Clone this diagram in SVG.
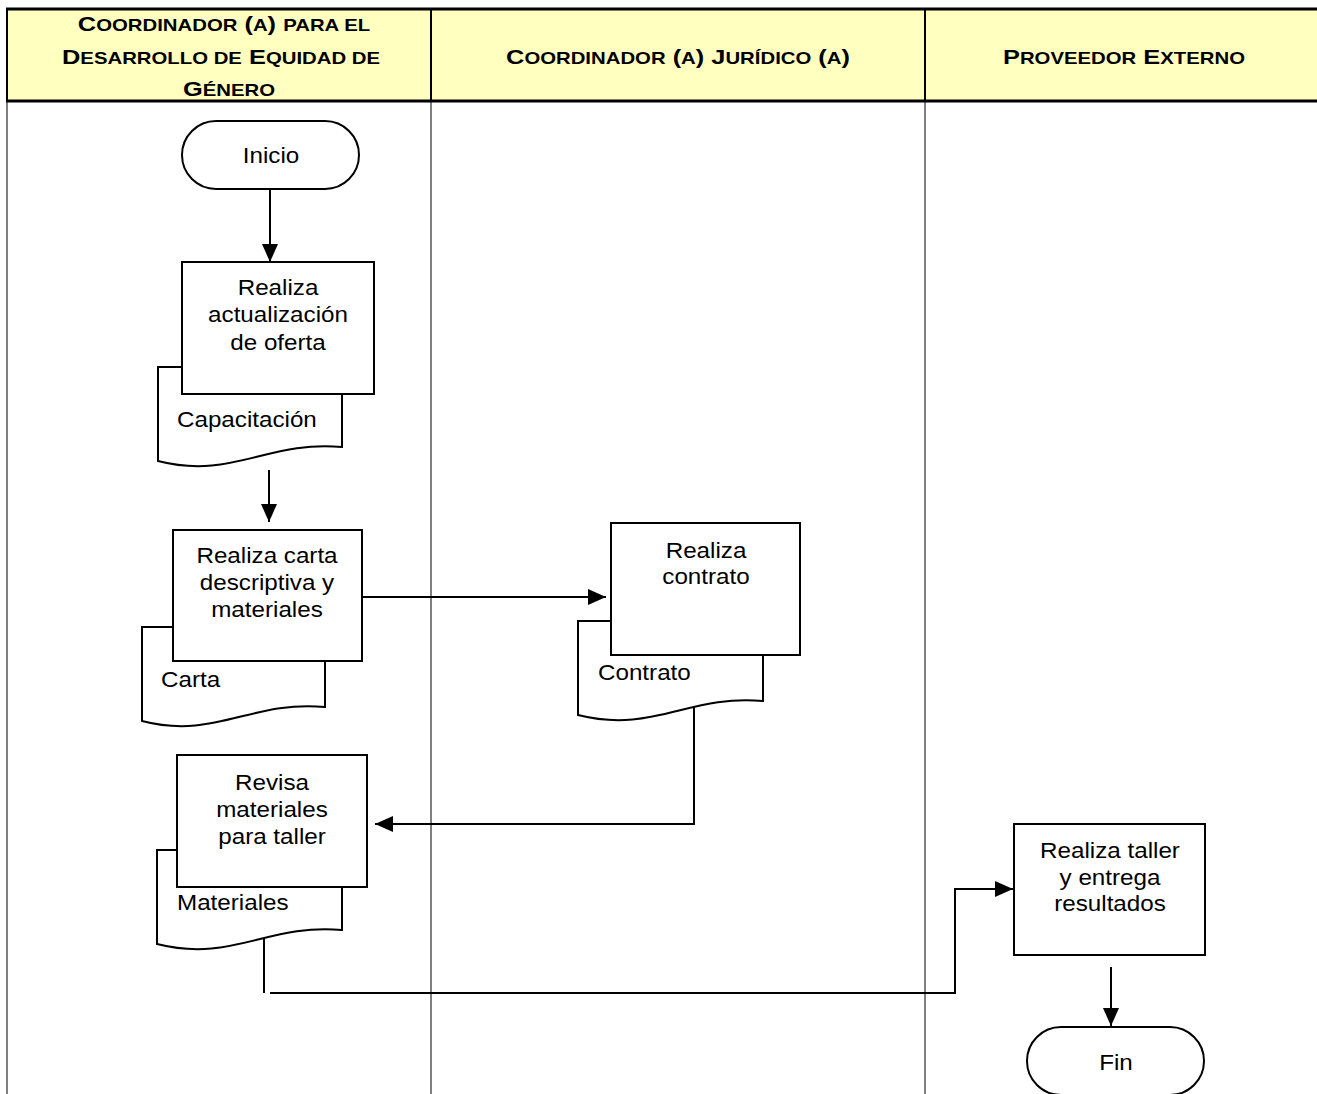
<svg xmlns="http://www.w3.org/2000/svg" width="1317" height="1094" viewBox="0 0 1317 1094">
  <style>
    .lane { stroke: #808080; stroke-width: 2; fill: none; }
    .hdline { stroke: #000; stroke-width: 2; fill: none; }
    .hd { font-family: "Liberation Sans", Arial, sans-serif; font-weight: bold; font-size: 20.5px; fill: #000; text-anchor: middle; }
    .sc { font-size: 16.4px; }
    .shape { fill: #fff; stroke: #000; stroke-width: 2; }
    .t { font-family: "Liberation Sans", Arial, sans-serif; font-size: 22px; fill: #000; text-anchor: middle; }
    .tl { font-family: "Liberation Sans", Arial, sans-serif; font-size: 22px; fill: #000; text-anchor: start; }
    .conn { stroke: #000; stroke-width: 2; fill: none; }
  </style>
  <defs>
    <marker id="arrow" markerUnits="userSpaceOnUse" markerWidth="18" markerHeight="18" viewBox="0 0 18 18" refX="18" refY="9" orient="auto">
      <path d="M0,1 L18,9 L0,17 Z" fill="#000"/>
    </marker>
  </defs>

  <rect width="1317" height="1094" fill="#fff"/>

  <!-- swimlane table -->
  <g id="lanes">
    <rect x="7" y="9" width="1312" height="92" fill="#FFFFC0"/>
    <line class="lane" x1="7" y1="101" x2="7" y2="1094"/>
    <line class="lane" x1="431" y1="101" x2="431" y2="1094"/>
    <line class="lane" x1="925" y1="101" x2="925" y2="1094"/>
    <line x1="6" y1="9" x2="1317" y2="9" stroke="#000" stroke-width="3"/>
    <line x1="6" y1="101" x2="1317" y2="101" stroke="#000" stroke-width="3"/>
    <line class="hdline" x1="7" y1="8" x2="7" y2="102"/>
    <line class="hdline" x1="431" y1="8" x2="431" y2="102"/>
    <line class="hdline" x1="925" y1="8" x2="925" y2="102"/>
    <text class="hd" transform="translate(224,0) scale(1.24,1)" y="31">C<tspan class="sc">OORDINADOR</tspan> (<tspan class="sc">A</tspan>) <tspan class="sc">PARA EL</tspan></text>
    <text class="hd" transform="translate(221,0) scale(1.24,1)" y="64">D<tspan class="sc">ESARROLLO DE</tspan> E<tspan class="sc">QUIDAD DE</tspan></text>
    <text class="hd" transform="translate(229,0) scale(1.24,1)" y="96">G<tspan class="sc">ÉNERO</tspan></text>
    <text class="hd" transform="translate(678,0) scale(1.24,1)" y="64">C<tspan class="sc">OORDINADOR</tspan> (<tspan class="sc">A</tspan>) J<tspan class="sc">URÍDICO</tspan> (<tspan class="sc">A</tspan>)</text>
    <text class="hd" transform="translate(1124,0) scale(1.24,1)" y="64">P<tspan class="sc">ROVEEDOR</tspan> E<tspan class="sc">XTERNO</tspan></text>
  </g>

  <!-- connectors -->
  <g id="connectors">
    <line class="conn" x1="270" y1="189" x2="270" y2="262" marker-end="url(#arrow)"/>
    <line class="conn" x1="269" y1="470" x2="269" y2="522" marker-end="url(#arrow)"/>
    <line class="conn" x1="362" y1="597" x2="606" y2="597" marker-end="url(#arrow)"/>
    <polyline class="conn" points="694,707 694,824 375,824" marker-end="url(#arrow)"/>
    <line class="conn" x1="264" y1="938" x2="264" y2="993"/>
    <polyline class="conn" points="270,993 955,993 955,889 1013,889" marker-end="url(#arrow)"/>
    <line class="conn" x1="1111" y1="967" x2="1111" y2="1026" marker-end="url(#arrow)"/>
  </g>

  <!-- start -->
  <g id="inicio">
    <rect class="shape" x="182" y="121" width="177" height="68" rx="34" ry="34"/>
    <text class="t" transform="translate(271,0) scale(1.1,1)" y="163">Inicio</text>
  </g>

  <!-- step 1 with its document -->
  <g id="oferta">
    <path class="shape" d="M158,367 H342 V447 C268,440 232,480 158,461 Z"/>
    <rect class="shape" x="182" y="262" width="192" height="132"/>
    <text class="t" transform="translate(278,0) scale(1.1,1)"><tspan x="0" y="295">Realiza</tspan><tspan x="0" y="322">actualización</tspan><tspan x="0" y="350">de oferta</tspan></text>
    <text class="tl" transform="translate(177,0) scale(1.1,1)" x="0" y="427">Capacitación</text>
  </g>

  <!-- step 2 with its document -->
  <g id="carta">
    <path class="shape" d="M142,627 H325 V707 C251,700 215,740 142,721 Z"/>
    <rect class="shape" x="173" y="530" width="189" height="131"/>
    <text class="t" transform="translate(267,0) scale(1.1,1)"><tspan x="0" y="563">Realiza carta</tspan><tspan x="0" y="590">descriptiva y</tspan><tspan x="0" y="617">materiales</tspan></text>
    <text class="tl" transform="translate(161,0) scale(1.1,1)" x="0" y="687">Carta</text>
  </g>

  <!-- step 3 with its document -->
  <g id="contrato">
    <path class="shape" d="M578,621 H763 V701 C689,694 653,734 578,715 Z"/>
    <rect class="shape" x="611" y="523" width="189" height="132"/>
    <text class="t" transform="translate(706,0) scale(1.1,1)"><tspan x="0" y="558">Realiza</tspan><tspan x="0" y="584">contrato</tspan></text>
    <text class="tl" transform="translate(598,0) scale(1.1,1)" x="0" y="680">Contrato</text>
  </g>

  <!-- step 4 with its document -->
  <g id="revisa">
    <path class="shape" d="M157,850 H342 V930 C268,923 232,963 157,944 Z"/>
    <rect class="shape" x="177" y="755" width="190" height="132"/>
    <text class="t" transform="translate(272,0) scale(1.1,1)"><tspan x="0" y="790">Revisa</tspan><tspan x="0" y="817">materiales</tspan><tspan x="0" y="844">para taller</tspan></text>
    <text class="tl" transform="translate(177,0) scale(1.1,1)" x="0" y="910">Materiales</text>
  </g>

  <!-- step 5 -->
  <g id="taller">
    <rect class="shape" x="1014" y="824" width="191" height="131"/>
    <text class="t" transform="translate(1110,0) scale(1.1,1)"><tspan x="0" y="858">Realiza taller</tspan><tspan x="0" y="885">y entrega</tspan><tspan x="0" y="911">resultados</tspan></text>
  </g>

  <!-- end -->
  <g id="fin">
    <rect class="shape" x="1027" y="1027" width="177" height="68" rx="34" ry="34"/>
    <text class="t" transform="translate(1116,0) scale(1.1,1)" y="1070">Fin</text>
  </g>
</svg>
